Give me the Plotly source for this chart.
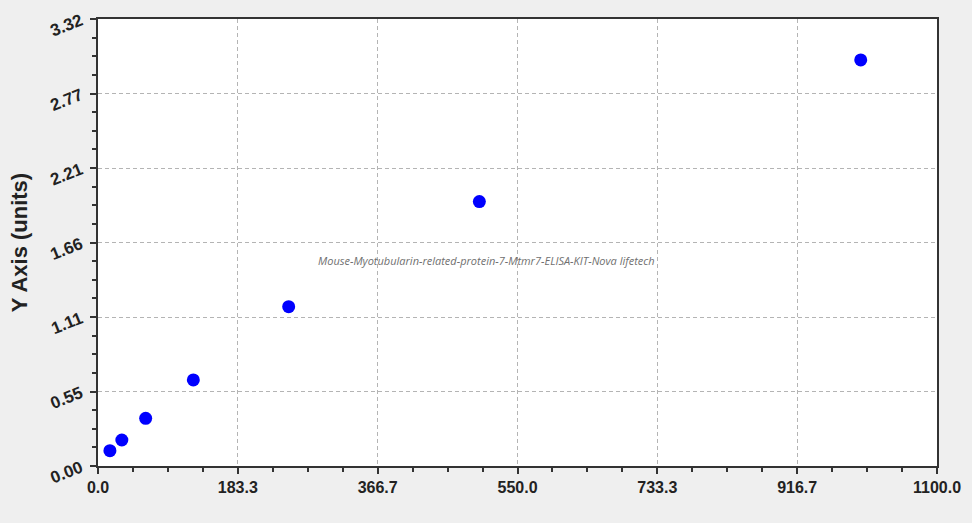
import plotly.graph_objects as go

# concentraciones del estándar y lecturas
concentration = [15.625, 31.25, 62.5, 125, 250, 500, 1000]
absorbance = [0.114, 0.193, 0.354, 0.639, 1.183, 1.964, 3.016]

x_ticks = [0, 183.333, 366.667, 550, 733.333, 916.667, 1100]
x_labels = ["0.0", "183.3", "366.7", "550.0", "733.3", "916.7", "1100.0"]
y_ticks = [0, 0.5533, 1.1067, 1.66, 2.2133, 2.7667, 3.32]
y_labels = ["0.00", "0.55", "1.11", "1.66", "2.21", "2.77", "3.32"]

fig = go.Figure()
fig.add_trace(go.Scatter(
    x=concentration, y=absorbance, mode="markers",
    marker=dict(color="#0000ff", size=13, line=dict(width=0)),
    showlegend=False, hoverinfo="x+y",
))

axis_common = dict(
    showline=True, linecolor="#333333", linewidth=1.5, mirror=True,
    ticks="outside", ticklen=6, tickcolor="#333333", tickwidth=1.5,
    showgrid=True, gridcolor="#b4b4b4", griddash="4px,3px", gridwidth=1,
    zeroline=False, tickmode="array",
)
tick_font = dict(family="Liberation Sans, Arial", color="#222222", weight="bold")

fig.update_xaxes(
    **axis_common, range=[0, 1100], tickvals=x_ticks, ticktext=x_labels,
    tickfont=dict(**tick_font, size=16),
    minor=dict(ticks="outside", ticklen=4, tickcolor="#333333", tick0=0, dtick=1100 / 24, showgrid=False),
)
fig.update_yaxes(
    **axis_common, range=[0, 3.32], tickvals=y_ticks, ticktext=y_labels, tickangle=-22,
    tickfont=dict(**tick_font, size=17), ticklabelstandoff=6,
    minor=dict(ticks="outside", ticklen=4, tickcolor="#333333", tick0=0, dtick=3.32 / 24, showgrid=False),
    title=dict(text="Y Axis (units)", font=dict(family="Liberation Sans, Arial", size=22, color="#222222", weight="bold"), standoff=14),
)

fig.add_annotation(
    x=0.463, y=0.459, xref="paper", yref="paper", showarrow=False,
    text="<i>Mouse-Myotubularin-related-protein-7-Mtmr7-ELISA-KIT-Nova lifetech</i>",
    font=dict(family="Open Sans, Liberation Sans", size=11, color="#707070"),
)

fig.update_layout(
    width=972, height=523,
    margin=dict(l=98, r=35, t=19, b=57, autoexpand=False),
    paper_bgcolor="#efefef", plot_bgcolor="#ffffff",
)

fig.write_html(
    "out.html",
    config={"displayModeBar": False},
    post_script="document.body.style.margin='0';document.body.style.background='#efefef';",
)
